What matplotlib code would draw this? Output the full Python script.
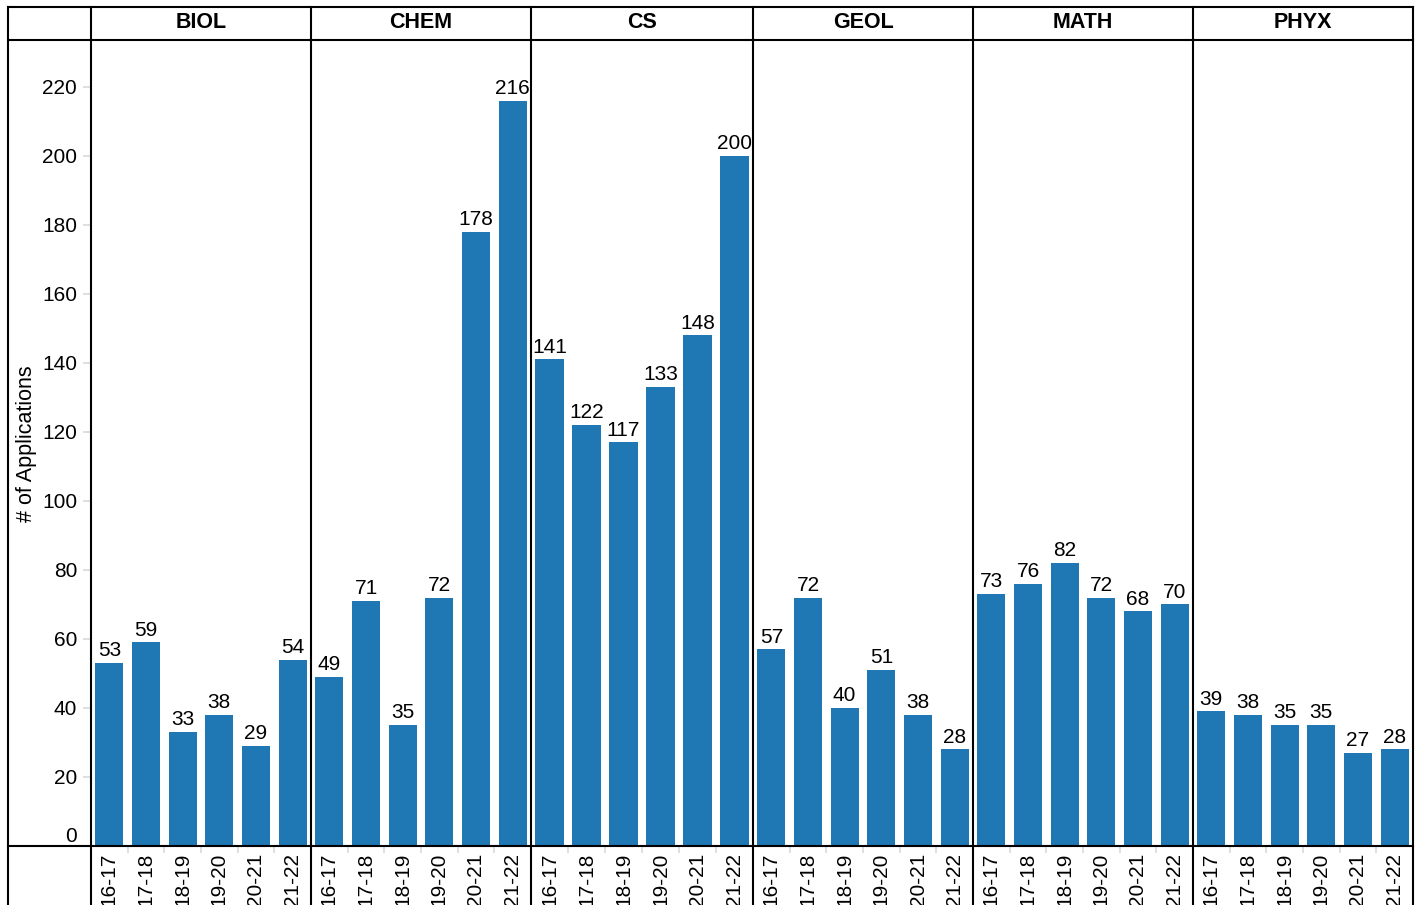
import matplotlib
matplotlib.use('Agg')
import matplotlib.pyplot as plt
from matplotlib.lines import Line2D

plt.rcParams['font.family'] = ['Liberation Sans', 'DejaVu Sans']

departments = ['BIOL', 'CHEM', 'CS', 'GEOL', 'MATH', 'PHYX']
years = ['16-17', '17-18', '18-19', '19-20', '20-21', '21-22']

biol = [53, 59, 33, 38, 29, 54]
chem = [49, 71, 35, 72, 178, 216]
cs = [141, 122, 117, 133, 148, 200]
geol = [57, 72, 40, 51, 38, 28]
math = [73, 76, 82, 72, 68, 70]
phyx = [39, 38, 35, 35, 27, 28]
all_values = [biol, chem, cs, geol, math, phyx]

y_ticks = [0, 20, 40, 60, 80, 100, 120, 140, 160, 180, 200, 220]

BAR_COLOR = '#1f77b4'
W, H = 1419, 905
FS = 15
FS_BIG = 15.5


def fx(px):
    return px / W


def fy(py):
    return 1 - py / H


fig = plt.figure(figsize=(W / 100, H / 100), dpi=100)

# panel edges in pixels
edges = [91, 311, 531, 753, 973, 1193, 1413]
top, bottom = 41, 846

for i, dept in enumerate(departments):
    left = edges[i]
    right = edges[i + 1]
    ax = fig.add_axes([fx(left), fy(bottom), fx(right - left), (bottom - top) / H])
    x = list(range(len(years)))
    bars = ax.bar(x, all_values[i], width=0.77, color=BAR_COLOR)
    for b, v in zip(bars, all_values[i]):
        ax.annotate(str(v), (b.get_x() + b.get_width() / 2, v),
                    xytext=(0, 2), textcoords='offset points',
                    ha='center', va='bottom', fontsize=FS)
    ax.set_xlim(-0.5, len(years) - 0.5)
    ax.set_ylim(0, 233.3)
    ax.set_xticks(x)
    ax.set_xticklabels(years, rotation=90, fontsize=FS)
    # little grey ticks between the bars
    ax.set_xticks([k + 0.5 for k in range(len(years) - 1)], minor=True)
    ax.tick_params(axis='x', which='major', length=0, pad=5)
    ax.tick_params(axis='x', which='minor', length=5, color='#d9d9d9', width=1.2)
    for s in ax.spines.values():
        s.set_visible(False)
    if i == 0:
        ax.set_yticks(y_ticks)
        ax.set_yticklabels([str(t) for t in y_ticks], fontsize=FS)
        ax.tick_params(axis='y', length=6, color='#d9d9d9', width=1.2, pad=4)
        ax.get_yticklabels()[0].set_verticalalignment('bottom')
    else:
        ax.set_yticks([])
    fig.text(fx((left + right) / 2), fy(23), dept, ha='center', va='center',
             fontsize=FS_BIG, fontweight='bold')

fig.text(fx(27), fy((top + bottom) / 2), '# of Applications', rotation=90,
         ha='center', va='center', fontsize=FS_BIG)

# table borders
lw = 1.5
lines = [
    ([8, 1413], [7, 7]),
    ([8, 1413], [40, 40]),
    ([8, 1413], [846, 846]),
    ([8, 8], [7, 905]),
]
for e in edges:
    lines.append(([e, e], [7, 905]))
for xs, ys in lines:
    fig.add_artist(Line2D([fx(v) for v in xs], [fy(v) for v in ys],
                          color='black', linewidth=lw))

fig.savefig('out.png', dpi=100)
